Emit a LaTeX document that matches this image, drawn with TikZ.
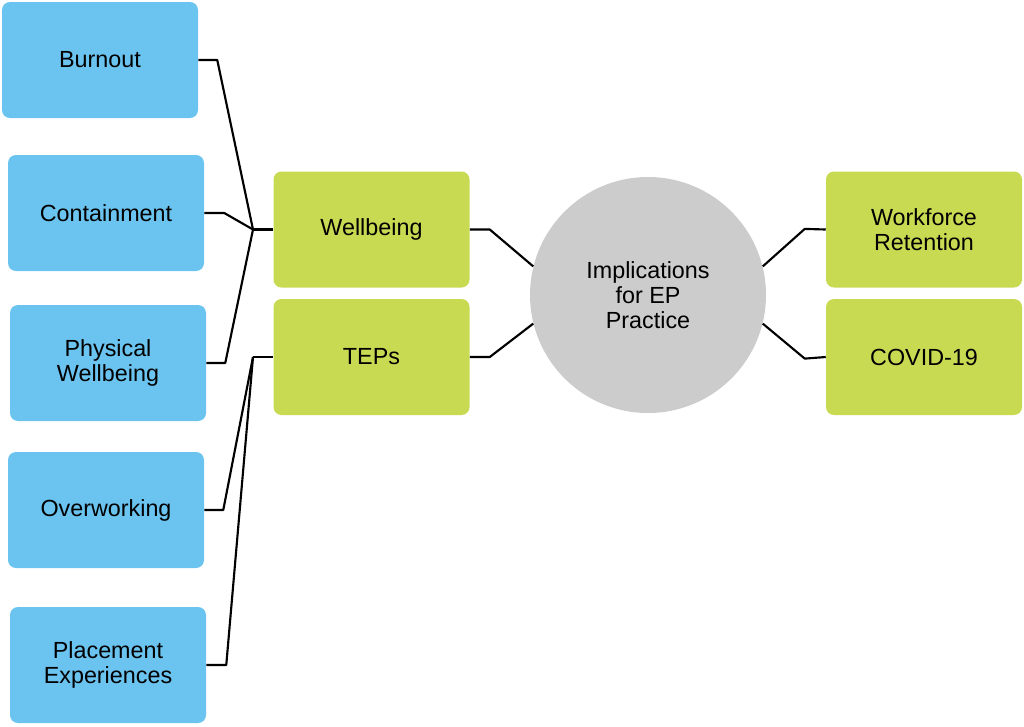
\documentclass[tikz,border=0pt]{standalone}
\usepackage{fontspec}
\setmainfont{Liberation Sans}
\usepackage{xcolor}

\definecolor{themeblue}{RGB}{107,196,240}
\definecolor{themegreen}{RGB}{200,218,82}
\definecolor{hubgrey}{RGB}{204,204,204}

\tikzset{
  themebox/.style={rounded corners=6pt, minimum width=147pt, minimum height=87pt,
    align=center, inner sep=2pt, font=\fontsize{17.5}{18.5}\selectfont},
  subtheme/.style={themebox, fill=themeblue},
  maintheme/.style={themebox, fill=themegreen},
  hub/.style={circle, fill=hubgrey, minimum size=177pt, align=center,
    font=\fontsize{17.5}{18.5}\selectfont},
  link/.style={line width=1.6pt, line join=round}
}

\begin{document}
\begin{tikzpicture}[x=0.75pt,y=0.75pt,yscale=-1,xscale=1]
\path[use as bounding box] (0,0) rectangle (1024,726);

% Subthemes (left)
\node[subtheme] (burnout) at (100,60) {Burnout};
\node[subtheme] (containment) at (106,213) {Containment};
\node[subtheme] (physical) at (108,363) {Physical\\Wellbeing};
\node[subtheme] (overworking) at (106,510) {Overworking};
\node[subtheme] (placement) at (108,665) {Placement\\Experiences};

% Main themes
\node[maintheme] (wellbeing) at (371.5,229.5) {Wellbeing};
\node[maintheme] (teps) at (371.5,357) {TEPs};
\node[maintheme] (retention) at (924,229.5) {Workforce\\Retention};
\node[maintheme] (covid) at (924,357) {COVID-19};

% Central hub
\node[hub] (hub) at (648,295) {Implications\\for EP\\Practice};

% Junctions
\coordinate (jwell) at (253,229.5);
\coordinate (jteps) at (253,357);

% Links to Wellbeing
\draw[link] (burnout.east) -- ++(19,0) -- (jwell);
\draw[link] (containment.east) -- ++(20,0) -- (jwell);
\draw[link] (physical.east) -- ++(19,0) -- (jwell);
\draw[link] (jwell) -- (wellbeing.west);

% Links to TEPs
\draw[link] (overworking.east) -- ++(19,0) -- (jteps);
\draw[link] (placement.east) -- ++(20,0) -- (jteps);
\draw[link] (jteps) -- (teps.west);

% Links to hub
\draw[link] (wellbeing.east) -- ++(20,0) -- (hub.166);
\draw[link] (teps.east) -- ++(20,0) -- (hub.194);
\draw[link] (hub.14) -- ++(42,-37.5) -- (retention.west);
\draw[link] (hub.346) -- ++(42,35) -- (covid.west);

\end{tikzpicture}
\end{document}
